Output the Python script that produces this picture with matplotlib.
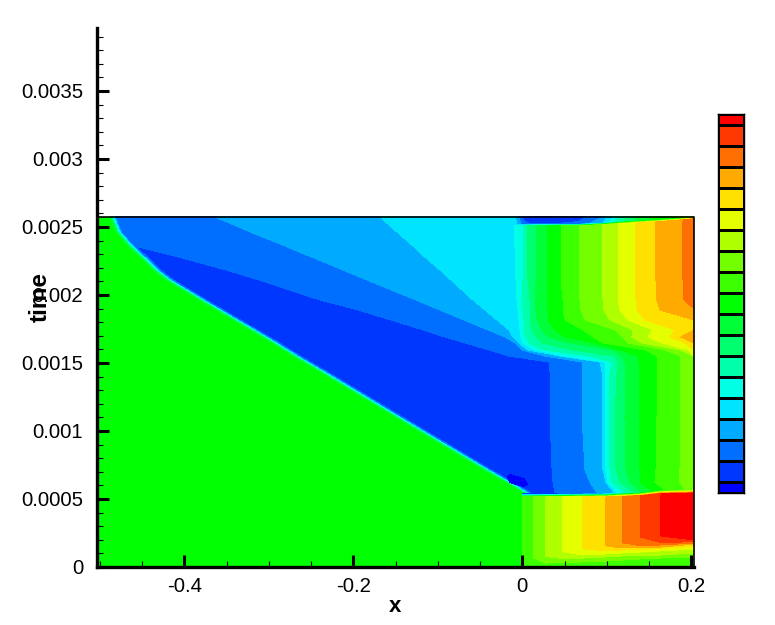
import numpy as np
import matplotlib
matplotlib.use("Agg")
import matplotlib.pyplot as plt
from matplotlib.colors import ListedColormap, BoundaryNorm
from matplotlib.ticker import MultipleLocator

plt.rcParams['font.family'] = ['Liberation Sans', 'DejaVu Sans']

# ---- band colours, low to high (one per contour level) ----
band_colors = ['#0000ff', '#0037ff', '#006eff', '#00aaff', '#00e4ff', '#00ffe4', '#00ffaa',
               '#00ff6e', '#00ff37', '#00ff00', '#3cff00', '#73ff00', '#afff00', '#e4ff00',
               '#ffe100', '#ffaa00', '#ff6e00', '#ff3700', '#ff0000']
levels = np.arange(-0.5, 19.0, 1.0)

x_min, x_max = -0.5035, 0.2032
t_top = 0.002574
y_limit = 0.003963

# ---- undisturbed state ----
base_x = [x_min, x_max]
base_t = [0.0, t_top]
base_z = [[9.0, 9.0], [9.0, 9.0]]

# ---- upper region: each row is a time, each column follows one contour ----
upper_t = [0.002574, 0.002463, 0.002360, 0.002353, 0.002272, 0.002184, 0.002110, 0.001963,
           0.001890, 0.001816, 0.001743, 0.001691, 0.001647, 0.001596, 0.001551, 0.001507,
           0.001434, 0.001103, 0.000713, 0.000625, 0.000507]
shock_x = [-0.4880, -0.4808, -0.4666, -0.4655, -0.4513, -0.4371, -0.4216, -0.3826,
           -0.3625, -0.3424, -0.3222, -0.3081, -0.2962, -0.2832, -0.2714, -0.2595,
           -0.2394, -0.1507, -0.0453, -0.0205, 0.0115]
shock_offsets = [0.0, 0.0030, 0.0058, 0.0095]
shock_z = [8.5, 5.0, 2.5]
inner_z = [1.6, 1.6, 1.6, 1.2, 1.2, 1.2, 1.2, 1.2, 1.2, 1.2, 1.2, 1.2, 1.2, 1.2, 1.2, 1.2, 1.2, 1.2, 1.2, 1.2, 1.2]
first_z = [1.6, 1.6, 1.6, 1.5, 1.5, 1.5, 1.5, 1.5, 1.5, 1.5, 1.5, 1.5, 1.5, 1.5, 1.5, 1.5, 1.5, 1.5, 1.5, 1.5, 1.5]
line_z = [2.5, 3.5, 4.5, 5.5, 6.5, 7.5, 8.5, 9.5, 10.5, 11.5, 12.5, 13.5, 14.5, 15.5]
edge_z = [16.3, 16.3, 16.3, 16.3, 16.3, 16.3, 16.3, 16.2, 15.4, 14.3, 14.5, 15.3, 14.2, 13.2, 11.6, 11.3, 11.3, 11.3, 11.3, 11.2, 10.8]
# contour positions: z = 1.5 first, then line_z values
upper_lines = [
    [-0.4821, -0.3637, -0.1684, -0.0098, 0.0008, 0.0056, 0.0162, 0.0292, 0.0458, 0.0671, 0.0943, 0.1133, 0.1334, 0.1582, 0.1890],
    [-0.4713, -0.3219, -0.1483, -0.0092, 0.0008, 0.0056, 0.0162, 0.0292, 0.0458, 0.0671, 0.0943, 0.1133, 0.1334, 0.1582, 0.1890],
    [-0.4607, -0.2808, -0.1294, -0.0087, 0.0008, 0.0056, 0.0162, 0.0292, 0.0458, 0.0671, 0.0943, 0.1133, 0.1334, 0.1582, 0.1890],
    [-0.4548, -0.2784, -0.1282, -0.0087, 0.0008, 0.0056, 0.0162, 0.0292, 0.0458, 0.0671, 0.0943, 0.1133, 0.1334, 0.1582, 0.1890],
    [-0.4027, -0.2465, -0.1140, -0.0080, 0.0008, 0.0056, 0.0162, 0.0292, 0.0458, 0.0671, 0.0943, 0.1133, 0.1334, 0.1582, 0.1890],
    [-0.3507, -0.2122, -0.0974, -0.0077, 0.0008, 0.0062, 0.0162, 0.0292, 0.0458, 0.0671, 0.0943, 0.1133, 0.1334, 0.1582, 0.1896],
    [-0.3116, -0.1838, -0.0844, -0.0075, 0.0008, 0.0068, 0.0162, 0.0292, 0.0458, 0.0671, 0.0943, 0.1133, 0.1334, 0.1582, 0.1902],
    [-0.2394, -0.1258, -0.0583, -0.0063, -0.0004, 0.0091, 0.0150, 0.0292, 0.0482, 0.0683, 0.0955, 0.1133, 0.1346, 0.1594, 0.1914],
    [-0.1944, -0.0974, -0.0441, -0.0051, 0.0008, 0.0091, 0.0162, 0.0304, 0.0482, 0.0695, 0.0967, 0.1156, 0.1358, 0.1630, 0.2032],
    [-0.1554, -0.0690, -0.0299, -0.0039, 0.0020, 0.0091, 0.0174, 0.0304, 0.0505, 0.0742, 0.1038, 0.1251, 0.1452, 0.2032, 0.2032],
    [-0.1175, -0.0406, -0.0157, -0.0027, 0.0020, 0.0115, 0.0233, 0.0387, 0.0718, 0.1097, 0.1310, 0.1547, 0.1807, 0.2032, 0.2032],
    [-0.0915, -0.0205, -0.0110, -0.0015, 0.0044, 0.0162, 0.0304, 0.0505, 0.0837, 0.1192, 0.1298, 0.1488, 0.1748, 0.1878, 0.2032],
    [-0.0678, -0.0087, -0.0039, 0.0008, 0.0079, 0.0233, 0.0564, 0.0849, 0.0955, 0.1251, 0.1417, 0.1653, 0.1925, 0.2032, 0.2032],
    [-0.0394, -0.0004, 0.0068, 0.0150, 0.0269, 0.0588, 0.1062, 0.1156, 0.1452, 0.1689, 0.1866, 0.1961, 0.2032, 0.2032, 0.2032],
    [-0.0157, 0.0269, 0.0446, 0.0505, 0.0801, 0.1085, 0.1180, 0.1369, 0.1594, 0.1878, 0.2032, 0.2032, 0.2032, 0.2032, 0.2032],
    [0.0316, 0.0707, 0.0920, 0.0979, 0.1062, 0.1133, 0.1215, 0.1381, 0.1594, 0.1878, 0.2032, 0.2032, 0.2032, 0.2032, 0.2032],
    [0.0328, 0.0707, 0.0943, 0.0990, 0.1038, 0.1121, 0.1227, 0.1381, 0.1594, 0.1878, 0.2032, 0.2032, 0.2032, 0.2032, 0.2032],
    [0.0328, 0.0707, 0.0943, 0.0990, 0.1026, 0.1097, 0.1215, 0.1381, 0.1594, 0.1878, 0.2032, 0.2032, 0.2032, 0.2032, 0.2032],
    [0.0352, 0.0742, 0.0955, 0.0990, 0.1038, 0.1109, 0.1227, 0.1393, 0.1582, 0.1866, 0.2032, 0.2032, 0.2032, 0.2032, 0.2032],
    [0.0363, 0.0801, 0.0990, 0.1014, 0.1062, 0.1156, 0.1275, 0.1393, 0.1570, 0.1866, 0.2032, 0.2032, 0.2032, 0.2032, 0.2032],
    [0.0399, 0.0920, 0.1133, 0.1180, 0.1298, 0.1417, 0.1511, 0.1653, 0.1807, 0.1984, 0.2032, 0.2032, 0.2032, 0.2032, 0.2032],
]

# ---- lower right region (early times) ----
lower_x = [-0.0004, 0.0127, 0.0280, 0.0478, 0.0718, 0.0990, 0.1180, 0.1393, 0.1641, 0.2032]
lower_top_z = [9.5, 10.5, 11.5, 12.5, 13.5, 14.5, 15.5, 16.5, 17.5, 18.0]
lower_levels = [17.5, 16.5, 15.5, 14.5, 13.5, 12.5, 11.5, 10.5]
lower_bottom_z = [9.5, 9.8, 9.8, 9.8, 9.8, 9.8, 9.8, 9.8, 9.8, 9.8]
lower_t = [
    [0.000515, 0.000515, 0.000515, 0.000515, 0.000515, 0.000515, 0.000518, 0.000522, 0.000537, 0.000540],
    [0.000228, 0.000228, 0.000228, 0.000228, 0.000228, 0.000228, 0.000228, 0.000228, 0.000228, 0.000206],
    [0.000221, 0.000221, 0.000221, 0.000221, 0.000221, 0.000221, 0.000221, 0.000221, 0.000221, 0.000199],
    [0.000178, 0.000178, 0.000178, 0.000178, 0.000178, 0.000178, 0.000178, 0.000176, 0.000180, 0.000186],
    [0.000156, 0.000156, 0.000156, 0.000156, 0.000156, 0.000156, 0.000154, 0.000158, 0.000162, 0.000176],
    [0.000134, 0.000134, 0.000134, 0.000134, 0.000134, 0.000132, 0.000140, 0.000143, 0.000147, 0.000169],
    [0.000112, 0.000112, 0.000112, 0.000112, 0.000110, 0.000118, 0.000125, 0.000129, 0.000136, 0.000154],
    [0.000078, 0.000078, 0.000078, 0.000074, 0.000088, 0.000096, 0.000103, 0.000110, 0.000118, 0.000132],
    [0.000068, 0.000068, 0.000066, 0.000062, 0.000066, 0.000074, 0.000081, 0.000085, 0.000088, 0.000103],
    [0.000030, 0.000029, 0.000029, 0.000033, 0.000037, 0.000044, 0.000051, 0.000059, 0.000066, 0.000074],
    [0.0, 0.0, 0.0, 0.0, 0.0, 0.0, 0.0, 0.0, 0.0, 0.0],
]

# ---- thin front between the two right-hand regions ----
front_top_t = [0.000537, 0.000537, 0.000537, 0.000537, 0.000537, 0.000537, 0.000540, 0.000544, 0.000559, 0.000566]
front_top_z = [1.0, 1.0, 1.0, 1.6, 2.4, 3.5, 6.0, 7.6, 9.6, 10.6]

# ---- thin layer along the top of the data ----
strip_x = [-0.0098, 0.0008, 0.0056, 0.0162, 0.0292, 0.0458, 0.0671, 0.0943, 0.1133, 0.1334, 0.1582, 0.1890, 0.2032]
strip_t = [
    [0.002508, 0.002508, 0.002508, 0.002508, 0.002508, 0.002508, 0.002508, 0.002515, 0.002522, 0.002529, 0.002537, 0.002551, 0.002559],
    [0.002522, 0.002522, 0.002522, 0.002522, 0.002522, 0.002522, 0.002522, 0.002529, 0.002537, 0.002544, 0.002551, 0.002562, 0.002566],
    [t_top] * 13,
]
strip_z = [
    [4.5, 5.5, 6.5, 7.5, 8.5, 9.5, 10.5, 11.5, 12.5, 13.5, 14.5, 15.5, 16.3],
    [4.0, 2.0, 1.6, 1.5, 1.5, 1.6, 1.8, 3.3, 6.0, 7.5, 8.5, 9.5, 10.5],
    [4.0, 1.2, 1.0, 0.4, 0.4, 0.6, 1.0, 2.5, 5.5, 7.5, 9.0, 10.0, 11.0],
]

# ---- small dark pocket behind the shock foot ----
pocket_x = [-0.0205, -0.0146, 0.0020, 0.0103]
pocket_t = [
    [0.000612, 0.000590, 0.000560, 0.000538],
    [0.000672, 0.000650, 0.000620, 0.000598],
    [0.000732, 0.000710, 0.000680, 0.000658],
]
pocket_z = [[1.0, 1.0, 1.0, 1.0], [1.0, 0.0, 0.0, 1.0], [1.0, 1.0, 1.0, 1.0]]

# ---- axis ticks and labels ----
x_major = [-0.4, -0.2, 0.0, 0.2]
x_labels = ['-0.4', '-0.2', '0', '0.2']
y_major = [0, 0.0005, 0.001, 0.0015, 0.002, 0.0025, 0.003, 0.0035]
y_labels = ['0', '0.0005', '0.001', '0.0015', '0.002', '0.0025', '0.003', '0.0035']

# ---- assemble meshes ----
n_rows = len(upper_t)
s = np.array(shock_x)
shock_cols = np.column_stack([s + d for d in shock_offsets])
lines = np.array(upper_lines)
upper_X = np.column_stack([shock_cols, lines, np.full(n_rows, x_max)])
upper_T = np.tile(np.array(upper_t)[:, None], (1, upper_X.shape[1]))
upper_Z = np.column_stack([
    np.tile(shock_z, (n_rows, 1)),
    inner_z, first_z,
    np.tile(line_z, (n_rows, 1)),
    edge_z,
])
upper_X = np.maximum.accumulate(upper_X, axis=1)

top_z = np.array(lower_top_z)
lower_Z = np.vstack([top_z, top_z] + [np.minimum(top_z, v) for v in lower_levels] + [lower_bottom_z])
lower_X = np.tile(lower_x, (len(lower_t), 1))

front_X = np.tile(lower_x, (2, 1))
front_T = np.array([lower_t[0], front_top_t])
front_Z = np.array([lower_top_z, front_top_z])

# ---- figure ----
fig = plt.figure(figsize=(7.75, 6.25), dpi=100)
ax = fig.add_axes([97 / 775, 58 / 625, 597 / 775, 539 / 625])
cmap = ListedColormap(band_colors)
norm = BoundaryNorm(levels, cmap.N)
kw = dict(levels=levels, cmap=cmap, norm=norm, antialiased=False)

ax.contourf(base_x, base_t, base_z, **kw)
ax.contourf(upper_X, upper_T, upper_Z, **kw)
ax.contourf(lower_X, np.array(lower_t), lower_Z, **kw)
ax.contourf(front_X, front_T, front_Z, **kw)
ax.contourf(np.tile(strip_x, (3, 1)), np.array(strip_t), np.array(strip_z), **kw)
ax.contourf(np.tile(pocket_x, (3, 1)), np.array(pocket_t), np.array(pocket_z),
            levels=[-0.5, 0.5], colors=[band_colors[0]], antialiased=False)

ax.plot([x_min, x_max, x_max], [t_top, t_top, 0], color='black', lw=1.2, clip_on=False, zorder=5)

ax.set_xlim(x_min, x_max)
ax.set_ylim(0, y_limit)
for side in ('top', 'right'):
    ax.spines[side].set_visible(False)
for side in ('left', 'bottom'):
    ax.spines[side].set_linewidth(2.4)
    ax.spines[side].set_zorder(6)

ax.set_xticks(x_major)
ax.set_xticklabels(x_labels)
ax.set_yticks(y_major)
ax.set_yticklabels(y_labels)
ax.xaxis.set_minor_locator(MultipleLocator(0.05))
ax.yaxis.set_minor_locator(MultipleLocator(0.0001))
ax.tick_params(which='major', direction='in', length=8.6, width=2.2, labelsize=14.7)
ax.tick_params(axis='y', which='major', pad=10)
ax.tick_params(axis='x', which='major', pad=7)
ax.tick_params(which='minor', direction='in', length=4.3, width=0.8)
ax.set_axisbelow(False)

ax.set_xlabel('x', fontsize=16, fontweight='bold')
ax.xaxis.set_label_coords(0.499, -0.0735)
ax.xaxis.label.set_verticalalignment('center')
ax.set_ylabel('time', fontsize=17.5, fontweight='bold')
ax.yaxis.set_label_coords(-0.0955, 0.50)
ax.yaxis.label.set_verticalalignment('center')

# ---- colour bar ----
cax = fig.add_axes([718 / 775, (625 - 493) / 625, 26 / 775, 379 / 625])
bar_edges = np.concatenate([[0.0], np.arange(0.5, 18.0, 1.0), [18.0]])
bar_values = np.arange(0, 19)[:, None]
cax.pcolormesh([0, 1], bar_edges, bar_values, cmap=cmap, norm=norm,
               edgecolors='black', linewidth=0.8)
cax.set_xlim(0, 1)
cax.set_ylim(0, 18)
cax.set_xticks([])
cax.set_yticks([])
for sp in cax.spines.values():
    sp.set_linewidth(1.0)

fig.savefig('out.png', dpi=100)
